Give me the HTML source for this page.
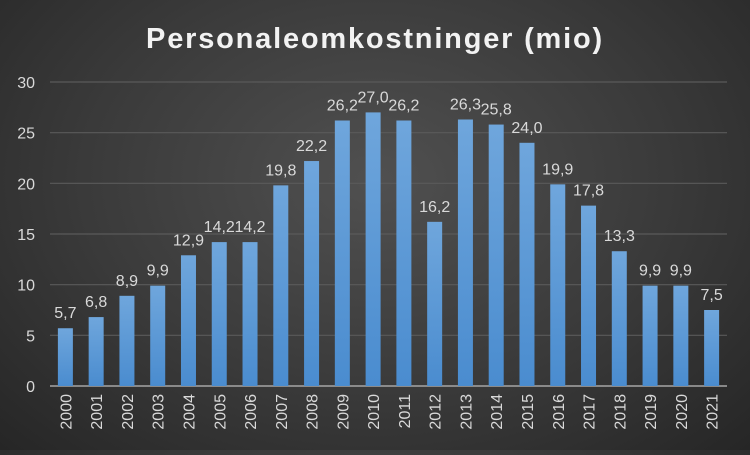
<!DOCTYPE html>
<html><head><meta charset="utf-8"><style>
html,body{margin:0;padding:0}
body{width:750px;height:450px;overflow:hidden;background:radial-gradient(ellipse at 50% 40%,#505050 0%,#3a3a3a 55%,#262626 100%);font-family:"Liberation Sans",sans-serif}
</style></head><body>
<svg id="chart" width="750" height="450" xmlns="http://www.w3.org/2000/svg">
<defs><linearGradient id="bg" x1="0" y1="0" x2="0" y2="1"><stop offset="0" stop-color="#6fa6dc"/><stop offset="1" stop-color="#4a8ccf"/></linearGradient></defs>
<text x="375" y="48" text-anchor="middle" font-size="29" font-weight="bold" fill="#f2f2f2" letter-spacing="1.8">Personaleomkostninger (mio)</text>
<g id="grid"></g><g id="bars"></g><g id="labels"></g>
</svg>
<script>
const categories=["2000","2001","2002","2003","2004","2005","2006","2007","2008","2009","2010","2011","2012","2013","2014","2015","2016","2017","2018","2019","2020","2021"];
const values=[5.7,6.8,8.9,9.9,12.9,14.2,14.2,19.8,22.2,26.2,27.0,26.2,16.2,26.3,25.8,24.0,19.9,17.8,13.3,9.9,9.9,7.5];
const yTicks=[0,5,10,15,20,25,30];
const NS="http://www.w3.org/2000/svg";
const plotLeft=50,plotRight=727,plotTop=82,plotBottom=386,ymax=30;
const band=(plotRight-plotLeft)/categories.length;
const yScale=v=>plotBottom-(v/ymax)*(plotBottom-plotTop);
const xScale=i=>plotLeft+band*i+band/2;
function mk(tag,attrs,parent){const e=document.createElementNS(NS,tag);for(const k in attrs)e.setAttribute(k,attrs[k]);parent.appendChild(e);return e;}
const gridG=document.getElementById('grid'),barsG=document.getElementById('bars'),labelsG=document.getElementById('labels');
yTicks.forEach(t=>{
  const ln=mk('line',{x1:plotLeft,x2:plotRight,y1:yScale(t),y2:yScale(t),stroke:t===0?'#a6a6a6':'#5a5a5a','stroke-width':t===0?1.5:1.2},gridG);
  
  
  const tx=mk('text',{x:35,y:yScale(t)+6,'text-anchor':'end','font-size':16,fill:'#d9d9d9'},gridG);
  tx.textContent=t;
  
  
});
values.forEach((v,i)=>{
  const cx=xScale(i),w=15;
  const r=mk('rect',{x:cx-w/2,y:yScale(v),width:w,height:plotBottom-yScale(v),fill:'url(#bg)'},barsG);
  
  
  const vt=mk('text',{x:cx,y:yScale(v)-10,'text-anchor':'middle','font-size':16,fill:'#d9d9d9'},labelsG);
  vt.textContent=v.toFixed(1).replace('.',',');
  
  
  const ct=mk('text',{x:0,y:0,'text-anchor':'end','font-size':16,fill:'#d9d9d9',transform:`translate(${cx+6},${plotBottom+8}) rotate(-90)`},labelsG);
  ct.textContent=categories[i];
  
  
});
</script>
</body></html>
